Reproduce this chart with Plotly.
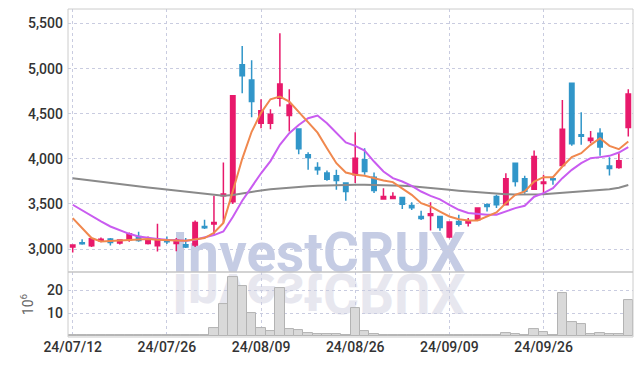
import plotly.graph_objects as go

dates = ["2024-07-12", "2024-07-15", "2024-07-16", "2024-07-17", "2024-07-18", "2024-07-19",
         "2024-07-22", "2024-07-23", "2024-07-24", "2024-07-25", "2024-07-26",
         "2024-07-29", "2024-07-30", "2024-07-31", "2024-08-01", "2024-08-02",
         "2024-08-05", "2024-08-06", "2024-08-07", "2024-08-08", "2024-08-09",
         "2024-08-12", "2024-08-13", "2024-08-14", "2024-08-16",
         "2024-08-19", "2024-08-20", "2024-08-21", "2024-08-22", "2024-08-23",
         "2024-08-26", "2024-08-27", "2024-08-28", "2024-08-29", "2024-08-30",
         "2024-09-02", "2024-09-03", "2024-09-04", "2024-09-05", "2024-09-06",
         "2024-09-09", "2024-09-10", "2024-09-11", "2024-09-12", "2024-09-13",
         "2024-09-19", "2024-09-20", "2024-09-23", "2024-09-24", "2024-09-25",
         "2024-09-26", "2024-09-27", "2024-09-30", "2024-10-02", "2024-10-04",
         "2024-10-07", "2024-10-08", "2024-10-10", "2024-10-11", "2024-10-14"]

open_ = [3022, 3070, 3037, 3092, 3111, 3066, 3103, 3140, 3062, 3037, 3090, 3062, 3048, 3044, 3250,
         3277, 3590, 3524, 5044, 4875, 4395, 4395, 4672, 4480, 4332, 4044, 3904, 3842, 3812, 3731,
         3823, 3989, 3797, 3555, 3560, 3572, 3483, 3361, 3372, 3361, 3133, 3306, 3290, 3324, 3490,
         3583, 3490, 3952, 3778, 3664, 3727, 3778, 3926, 4838, 4266, 4203, 4285, 3922, 3904, 4347]
high = [3046, 3110, 3118, 3128, 3122, 3103, 3184, 3192, 3140, 3280, 3140, 3122, 3122, 3317, 3324,
        3590, 3960, 4705, 5250, 5093, 4661, 4550, 5392, 4772, 4340, 4074, 3963, 3870, 3878, 3735,
        4296, 4118, 3848, 3675, 3630, 3575, 3520, 3424, 3520, 3365, 3302, 3380, 3343, 3460, 3509,
        3601, 3841, 3955, 3812, 4092, 3823, 3804, 4653, 4840, 4517, 4310, 4340, 4019, 4063, 4772]
low = [2962, 3047, 3022, 3075, 3040, 3051, 3081, 3081, 3051, 2973, 3055, 2975, 3011, 3022, 3221,
       3160, 3290, 3500, 4728, 4462, 4340, 4329, 4579, 4302, 4052, 3878, 3823, 3756, 3657, 3535,
       3731, 3823, 3620, 3554, 3556, 3443, 3432, 3321, 3206, 3203, 3120, 3250, 3250, 3318, 3416,
       3454, 3488, 3693, 3612, 3655, 3601, 3712, 3915, 4144, 4155, 4174, 4033, 3815, 3890, 4247]
close = [3044, 3058, 3114, 3108, 3072, 3100, 3169, 3095, 3103, 3111, 3082, 3103, 3022, 3295, 3235,
         3295, 3610, 4700, 4922, 4635, 4532, 4495, 4831, 4598, 4111, 4014, 3880, 3775, 3760, 3638,
         4007, 3860, 3650, 3583, 3583, 3498, 3457, 3339, 3391, 3239, 3299, 3275, 3313, 3454, 3472,
         3490, 3778, 3749, 3640, 4026, 3742, 3768, 4329, 4166, 4250, 4229, 4130, 3893, 3978, 4720]

ma5 = [3343, 3232, 3122, 3084, 3090, 3095, 3103, 3111, 3111, 3103, 3103, 3095, 3092, 3103, 3122,
       3180, 3290, 3640, 4000, 4300, 4510, 4660, 4690, 4635, 4520, 4400, 4290, 4118, 3952, 3848,
       3823, 3812, 3782, 3760, 3742, 3675, 3601, 3509, 3472, 3416, 3361, 3330, 3317, 3317, 3361,
       3405, 3509, 3601, 3638, 3749, 3797, 3797, 3915, 4019, 4063, 4155, 4229, 4144, 4107, 4192]
ma10 = [3491, 3428, 3361, 3306, 3250, 3206, 3169, 3140, 3122, 3111, 3103, 3095, 3092, 3103, 3130,
        3155, 3195, 3356, 3535, 3690, 3840, 3975, 4155, 4285, 4376, 4450, 4480, 4395, 4285, 4181,
        4144, 4092, 3970, 3860, 3786, 3749, 3701, 3638, 3590, 3550, 3491, 3435, 3399, 3387, 3380,
        3380, 3416, 3454, 3479, 3580, 3620, 3675, 3786, 3878, 3952, 4007, 4019, 4033, 4070, 4130]
ma60 = [3786, 3772, 3758, 3745, 3732, 3719, 3706, 3694, 3682, 3670, 3658, 3647, 3636, 3624, 3612,
        3598, 3590, 3600, 3618, 3635, 3650, 3662, 3672, 3682, 3690, 3697, 3703, 3707, 3710, 3712,
        3713, 3713, 3712, 3710, 3707, 3702, 3696, 3688, 3679, 3668, 3657, 3647, 3638, 3630, 3623,
        3615, 3608, 3604, 3603, 3604, 3608, 3615, 3622, 3630, 3638, 3646, 3655, 3664, 3680, 3710]

volume_millions = [0.3, 0.3, 0.1, 0.1, 0.1, 0.1, 0.1, 0.1, 0.1, 0.3, 0.2, 0.1, 0.1, 0.4, 0.1,
                   3.2, 13.9, 25.7, 21.8, 10.2, 3.2, 2.0, 20.9, 2.8, 2.3, 1.0, 0.5, 0.5, 0.5, 0.3,
                   12.4, 2.0, 0.6, 0.3, 0.3, 0.3, 0.1, 0.1, 0.3, 0.3, 0.1, 0.1, 0.2, 0.3, 0.1,
                   0.1, 1.0, 0.6, 0.2, 2.8, 1.5, 0.2, 18.8, 6.1, 5.0, 0.6, 1.1, 0.6, 0.6, 15.7]

tick_dates = ["2024-07-12", "2024-07-26", "2024-08-09", "2024-08-26", "2024-09-09", "2024-09-26"]
tick_labels = ["24/07/12", "24/07/26", "24/08/09", "24/08/26", "24/09/09", "24/09/26"]
price_ticks = [3000, 3500, 4000, 4500, 5000, 5500]
volume_ticks = [10, 20]

UP = "#E8196B"
DOWN = "#3196C9"
GRID = "#c9cce0"
FRAME = "#cccccc"
TICKFONT = dict(family="Roboto", size=14, color="#333333", weight=500)

fig = go.Figure()
fig.add_trace(go.Bar(x=dates, y=volume_millions, xaxis="x", yaxis="y2",
                     marker=dict(color="#d9d9d9", line=dict(color="#b3b3b3", width=1)),
                     hoverinfo="skip", showlegend=False))
fig.add_trace(go.Scatter(x=dates, y=ma60, mode="lines", line=dict(color="#8a8a8a", width=2),
                         hoverinfo="skip", showlegend=False))
fig.add_trace(go.Scatter(x=dates, y=ma10, mode="lines", line=dict(color="#C95CF0", width=2),
                         hoverinfo="skip", showlegend=False))
fig.add_trace(go.Scatter(x=dates, y=ma5, mode="lines", line=dict(color="#F0884E", width=2),
                         hoverinfo="skip", showlegend=False))
fig.add_trace(go.Candlestick(x=dates, open=open_, high=high, low=low, close=close,
                             increasing=dict(line=dict(color=UP, width=1.5), fillcolor=UP),
                             decreasing=dict(line=dict(color=DOWN, width=1.5), fillcolor=DOWN),
                             hoverinfo="skip", showlegend=False))

VOL_TOP = 0.198
fig.update_layout(
    width=642, height=366,
    margin=dict(l=68, r=9, t=9, b=29),
    paper_bgcolor="white", plot_bgcolor="white",
    bargap=0, boxgap=0.33,
    xaxis=dict(type="category", range=[-0.5, len(dates) - 0.5], anchor="y2",
               tickvals=tick_dates, ticktext=tick_labels, tickfont=TICKFONT,
               showgrid=True, gridcolor=GRID, griddash="dot", gridwidth=1,
               showline=False, zeroline=False, ticks="", rangeslider=dict(visible=False)),
    yaxis=dict(domain=[VOL_TOP, 1], range=[2745, 5661], tickvals=price_ticks, tickformat=",",
               tickfont=TICKFONT, showgrid=True, gridcolor=GRID, griddash="dot",
               zeroline=False, showline=False, ticks="", ticklabelstandoff=4),
    yaxis2=dict(domain=[0, VOL_TOP], range=[-0.6, 28.1], tickvals=volume_ticks,
                tickfont=TICKFONT, showgrid=True, gridcolor=GRID, griddash="dot",
                zeroline=False, showline=False, ticks="", ticklabelstandoff=4,
                title=dict(text="10<sup>6</sup>", standoff=10,
                           font=dict(family="Roboto", size=14, color="#666666"))),
    shapes=[
        dict(type="rect", xref="paper", yref="paper", x0=0, x1=1, y0=0, y1=1,
             line=dict(color=FRAME, width=1), layer="above"),
        dict(type="line", xref="paper", yref="paper", x0=0, x1=1, y0=VOL_TOP, y1=VOL_TOP,
             line=dict(color="#c4c4c4", width=1.5), layer="above"),
    ],
    annotations=[
        dict(text="InvestCRUX", xref="paper", yref="paper", x=0.444, y=0.257,
             xanchor="center", yanchor="middle", showarrow=False,
             font=dict(family="Roboto", size=55, color="#c5cce4", weight=700)),
        dict(text="InvestCRUX", xref="paper", yref="paper", x=0.444, y=0.257,
             xanchor="center", yanchor="middle", showarrow=False,
             font=dict(family="Roboto", size=55, color="#e7e7ef", weight=700)),
    ],
)

BASELINE = 273
post = """
document.documentElement.style.margin = '0';
document.body.style.margin = '0';
document.body.style.padding = '0';
var gd = document.getElementById('{plot_id}');
function placeWm(){
  var below = gd.querySelector('.layer-below');
  var fresh = gd.querySelectorAll('.infolayer g.annotation');
  if (!below || fresh.length < 2) return;
  below.querySelectorAll('g.annotation').forEach(function(a){ a.remove(); });
  fresh.forEach(function(a){ below.appendChild(a); });
  fresh[1].setAttribute('transform', 'translate(0,%d) scale(1,-1)');
}
placeWm();
if (gd.on) { gd.on('plotly_afterplot', placeWm); }
""" % (2 * BASELINE)

fig.write_html("out.html", post_script=post, config={"displayModeBar": False})
